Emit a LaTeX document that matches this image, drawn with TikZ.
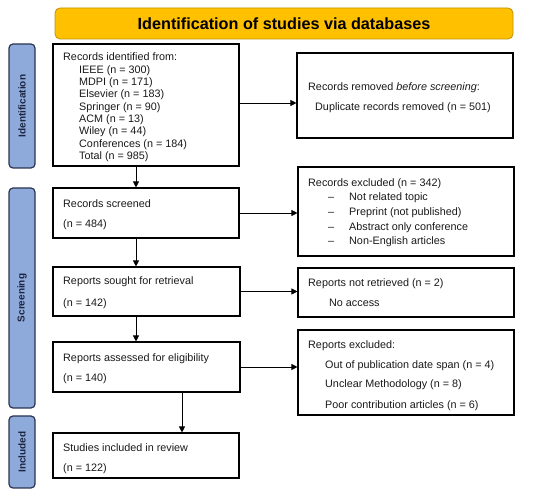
\documentclass[tikz,border=0pt]{standalone}
\usepackage{fontspec}
\setmainfont{Liberation Sans}
\usetikzlibrary{arrows.meta}
\definecolor{gold}{HTML}{FFC000}
\definecolor{goldb}{HTML}{BF9000}
\definecolor{sidefill}{HTML}{8EAADB}
\definecolor{sideb}{HTML}{2B3550}
\definecolor{sidetxt}{HTML}{1C2440}
\tikzset{
  box/.style={draw=black, line width=1.1pt, minimum width=#1, inner sep=0pt},
  side/.style={draw=sideb, fill=sidefill, line width=1.2pt, rounded corners=4pt, minimum width=26pt, inner sep=0pt},
  sidetext/.style={rotate=90, font=\fontsize{10}{12}\selectfont\bfseries, text=sidetxt},
  txt/.style={anchor=base west, inner sep=0pt, font=\fontsize{10.8}{12.3}\selectfont, text=black!90},
  arr/.style={line width=0.8pt, -{Triangle[length=6pt,width=6pt]}}
}
\begin{document}
\begin{tikzpicture}[x=1pt,y=-1pt]
\useasboundingbox (0,0) rectangle (550,497);
% title
\node[draw=goldb, fill=gold, line width=0.8pt, rounded corners=5pt, minimum width=458pt, minimum height=31pt, font=\fontsize{16.2}{18}\selectfont\bfseries] (title) at (284,23.5) {Identification of studies via databases};
% side labels
\node[side, minimum height=124pt] (sid) at (22,106) {};
\node[sidetext] (sidt) at (sid.center) {Identification};
\node[side, minimum height=220pt] (sscr) at (22,298) {};
\node[sidetext] (sscrt) at (sscr.center) {Screening};
\node[side, minimum height=72pt] (sinc) at (22,452) {};
\node[sidetext] (sinct) at (sinc.center) {Included};
% boxes
\node[box=186pt, minimum height=122pt] (b1) at (146,105) {};
\node[box=216pt, minimum height=85pt] (rem) at (405,95.5) {};
\node[box=186pt, minimum height=50pt] (scr) at (146,213) {};
\node[box=216pt, minimum height=89pt] (exc) at (406,211.5) {};
\node[box=187pt, minimum height=49pt] (sought) at (146.5,291.5) {};
\node[box=216pt, minimum height=49pt] (notret) at (406,292.5) {};
\node[box=187pt, minimum height=50pt] (assessed) at (146.5,367) {};
\node[box=216pt, minimum height=85pt] (repexc) at (406,372.5) {};
\node[box=186pt, minimum height=45pt] (incl) at (146,455.5) {};
% box 1 text
\node[txt] (t1) at (63,61) {Records identified from:};
\node[txt] (t2) at (79,73.3) {IEEE (n = 300)};
\node[txt] (t3) at (79,85.6) {MDPI (n = 171)};
\node[txt] (t4) at (79,97.9) {Elsevier (n = 183)};
\node[txt] (t5) at (79,110.2) {Springer (n = 90)};
\node[txt] (t6) at (79,122.5) {ACM (n = 13)};
\node[txt] (t7) at (79,134.8) {Wiley (n = 44)};
\node[txt] (t8) at (79,147.1) {Conferences (n = 184)};
\node[txt] (t9) at (79,159.4) {Total (n = 985)};
% removed
\node[txt] (r1) at (308,91) {Records removed \textit{before screening}:};
\node[txt] (r2) at (315,111) {Duplicate records removed (n = 501)};
% screened
\node[txt] (s1) at (63,208) {Records screened};
\node[txt] (s2) at (63,228) {(n = 484)};
% excluded
\node[txt] (e0) at (308,187) {Records excluded (n = 342)};
\node[txt] (ed1) at (328,201) {–};
\node[txt] (e1) at (349,201) {Not related topic};
\node[txt] (ed2) at (328,216) {–};
\node[txt] (e2) at (349,216) {Preprint (not published)};
\node[txt] (ed3) at (328,231) {–};
\node[txt] (e3) at (349,231) {Abstract only conference};
\node[txt] (ed4) at (328,245) {–};
\node[txt] (e4) at (349,245) {Non-English articles};
% sought
\node[txt] (so1) at (63,285) {Reports sought for retrieval};
\node[txt] (so2) at (63,307) {(n = 142)};
% not retrieved
\node[txt] (n1) at (308,287) {Reports not retrieved (n = 2)};
\node[txt] (n2) at (329,307) {No access};
% assessed
\node[txt] (a1) at (63,362) {Reports assessed for eligibility};
\node[txt] (a2) at (63,382) {(n = 140)};
% reports excluded
\node[txt] (x0) at (308,349) {Reports excluded:};
\node[txt] (x1) at (325,369) {Out of publication date span (n = 4)};
\node[txt] (x2) at (325,388) {Unclear Methodology (n = 8)};
\node[txt] (x3) at (325,409) {Poor contribution articles (n = 6)};
% included
\node[txt] (i1) at (63,452) {Studies included in review};
\node[txt] (i2) at (63,472) {(n = 122)};
% arrows
\draw[arr] ([xshift=-10pt]b1.south) -- ([xshift=-10pt]scr.north);
\draw[arr] ([xshift=-10pt]scr.south) -- ([xshift=-10.5pt]sought.north);
\draw[arr] ([xshift=-10.5pt]sought.south) -- ([xshift=-10.5pt]assessed.north);
\draw[arr] ([xshift=35.5pt]assessed.south) -- ([xshift=36pt]incl.north);
\draw[arr] ([yshift=2pt]b1.east) -- ([yshift=2pt]b1.east -| rem.west);
\draw[arr] (scr.east) -- (scr.east -| exc.west);
\draw[arr] (sought.east) -- (sought.east -| notret.west);
\draw[arr] (assessed.east) -- (assessed.east -| repexc.west);
\end{tikzpicture}
\end{document}
